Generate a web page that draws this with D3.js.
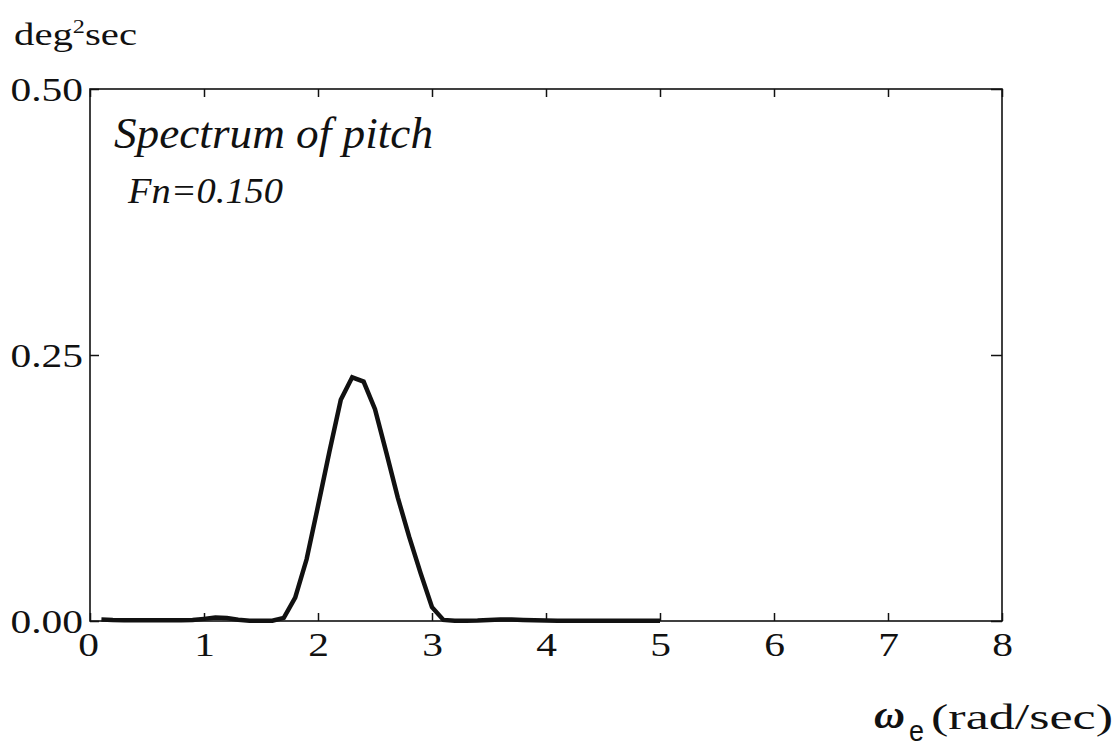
<!DOCTYPE html>
<html>
<head>
<meta charset="utf-8">
<script src="https://cdn.jsdelivr.net/npm/d3@7"></script>
<style>
  html, body { margin: 0; padding: 0; background: #fff; }
  svg { display: block; }
  text { font-family: "Liberation Serif", "Times New Roman", serif; fill: #111; }
</style>
</head>
<body>
<svg id="chart" width="1120" height="747"></svg>
<script>
// Encounter frequency (rad/sec)
const omega = [0.1, 0.2, 0.3, 0.4, 0.5, 0.6, 0.7, 0.8, 0.9, 1.0,
               1.1, 1.2, 1.3, 1.4, 1.5, 1.6, 1.7, 1.8, 1.9, 2.0,
               2.1, 2.2, 2.3, 2.4, 2.5, 2.6, 2.7, 2.8, 2.9, 3.0,
               3.1, 3.2, 3.3, 3.4, 3.5, 3.6, 3.7, 3.8, 3.9, 4.0,
               4.1, 4.2, 4.3, 4.4, 4.5, 4.6, 4.7, 4.8, 4.9, 5.0];
// Pitch spectral density (deg^2 sec)
const pitchSpectrum = [0.0015, 0.001, 0.0008, 0.0007, 0.0007, 0.0007, 0.0007, 0.0008, 0.001, 0.002,
                       0.0032, 0.0028, 0.0012, 0.0003, 0.0002, 0.0002, 0.003, 0.022, 0.058, 0.108,
                       0.159, 0.208, 0.229, 0.225, 0.199, 0.158, 0.116, 0.079, 0.045, 0.013,
                       0.001, 0.0002, 0.0002, 0.0004, 0.001, 0.0015, 0.0015, 0.001, 0.0006, 0.0004,
                       0.0003, 0.0003, 0.0003, 0.0003, 0.0003, 0.0003, 0.0003, 0.0003, 0.0003, 0.0003];
const xTicks = [0, 1, 2, 3, 4, 5, 6, 7, 8];
const yTicks = [0, 0.25, 0.5];
const yTickLabels = ["0.00", "0.25", "0.50"];

const svg = d3.select("#chart");
const plotLeft = 90, plotRight = 1002, plotTop = 89, plotBottom = 621;
const sx = 1.22; // horizontal stretch of the typeface

const x = d3.scaleLinear().domain([0, 8]).range([plotLeft, plotRight]);
const y = d3.scaleLinear().domain([0, 0.5]).range([plotBottom, plotTop]);

svg.append("rect").attr("width", 1120).attr("height", 747).attr("fill", "#fff");

// frame
svg.append("rect")
  .attr("x", plotLeft).attr("y", plotTop)
  .attr("width", plotRight - plotLeft).attr("height", plotBottom - plotTop)
  .attr("fill", "none").attr("stroke", "#111").attr("stroke-width", 1.6);

function styleAxis(g) {
  g.select(".domain").remove();
  g.selectAll(".tick line").attr("stroke", "#111").attr("stroke-width", 1.5);
}

// bottom axis with labels
const gb = svg.append("g").attr("transform", `translate(0,${plotBottom})`)
  .call(d3.axisBottom(x).tickValues(xTicks).tickFormat(d3.format("d"))
    .tickSizeInner(-8).tickSizeOuter(0).tickPadding(0));
styleAxis(gb);
gb.selectAll(".tick text")
  .attr("y", 35).attr("dy", null)
  .attr("font-size", 34)
  .attr("fill", "#111")
  .attr("transform", `scale(${sx},1)`);
gb.selectAll(".tick").filter(d => d === 0).select("text").attr("x", -1.5);

// top axis, ticks only
const gt = svg.append("g").attr("transform", `translate(0,${plotTop})`)
  .call(d3.axisTop(x).tickValues(xTicks).tickFormat("")
    .tickSizeInner(-8).tickSizeOuter(0));
styleAxis(gt);

// left axis with labels
const gl = svg.append("g").attr("transform", `translate(${plotLeft},0)`)
  .call(d3.axisLeft(y).tickValues(yTicks).tickFormat((d, i) => yTickLabels[i])
    .tickSizeInner(-9).tickSizeOuter(0).tickPadding(7));
styleAxis(gl);
gl.selectAll(".tick text")
  .attr("x", -7 / sx)
  .attr("dy", "0.34em")
  .attr("font-size", 34)
  .attr("fill", "#111")
  .attr("transform", `scale(${sx},1)`);

// right axis, ticks only
const gr = svg.append("g").attr("transform", `translate(${plotRight},0)`)
  .call(d3.axisRight(y).tickValues(yTicks).tickFormat("")
    .tickSizeInner(-11).tickSizeOuter(0));
styleAxis(gr);

// spectrum curve
const line = d3.line().x((d, i) => x(omega[i])).y(d => y(d));
svg.append("path")
  .datum(pitchSpectrum)
  .attr("d", line)
  .attr("fill", "none")
  .attr("stroke", "#111")
  .attr("stroke-width", 4.5)
  .attr("stroke-linejoin", "miter");

// unit label
const unit = svg.append("text").attr("x", 14).attr("y", 45)
  .attr("font-size", 32).attr("textLength", 123).attr("lengthAdjust", "spacingAndGlyphs");
unit.append("tspan").text("deg");
unit.append("tspan").attr("font-size", 19).attr("dy", -12).text("2");
unit.append("tspan").attr("dy", 12).text("sec");

// titles
svg.append("text").attr("x", 114).attr("y", 148)
  .attr("font-size", 44).attr("font-style", "italic")
  .attr("textLength", 319).attr("lengthAdjust", "spacingAndGlyphs")
  .text("Spectrum of pitch");
svg.append("text").attr("x", 128).attr("y", 203)
  .attr("font-size", 35).attr("font-style", "italic")
  .attr("textLength", 155).attr("lengthAdjust", "spacingAndGlyphs")
  .text("Fn=0.150");

// x axis label: ω with subscript e, then the unit
svg.append("text").attr("x", 874).attr("y", 728)
  .attr("font-size", 40).attr("font-style", "italic").attr("font-weight", "bold")
  .attr("textLength", 31).attr("lengthAdjust", "spacingAndGlyphs")
  .text("ω");
svg.append("text").attr("x", 909).attr("y", 741)
  .attr("font-size", 29)
  .style("font-family", "\"Liberation Sans\", Arial, sans-serif")
  .attr("textLength", 15).attr("lengthAdjust", "spacingAndGlyphs")
  .text("e");
svg.append("text").attr("x", 931).attr("y", 729)
  .attr("font-size", 36).attr("textLength", 182).attr("lengthAdjust", "spacingAndGlyphs")
  .text("(rad/sec)");
</script>
</body>
</html>
